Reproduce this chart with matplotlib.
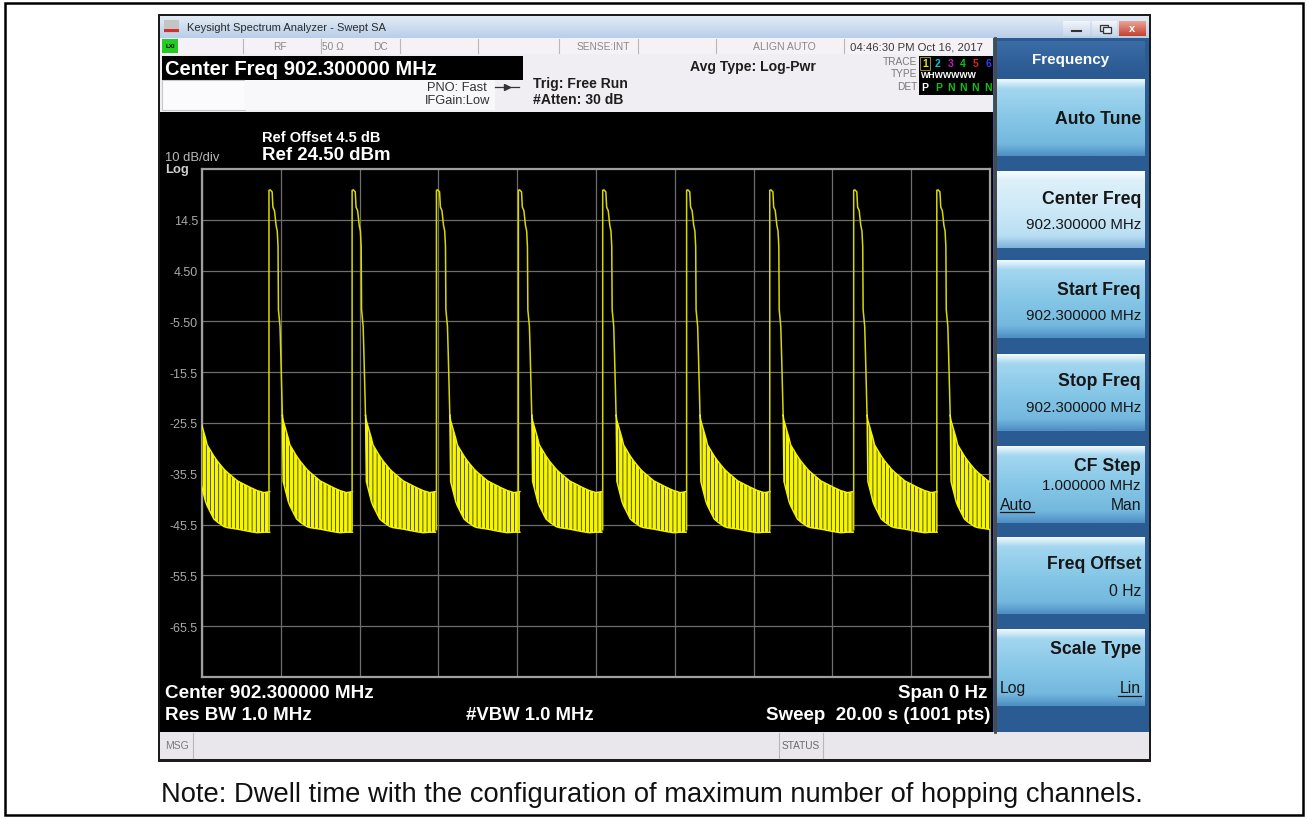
import numpy as np
import matplotlib
matplotlib.use("Agg")
import matplotlib.pyplot as plt
from matplotlib.patches import Rectangle
from matplotlib.colors import LinearSegmentedColormap

# ---------------- data ----------------
sweep_time_s = 20.0
ref_level_dbm = 24.5
db_per_div = 10.0
y_tick_values = [14.5, 4.5, -5.5, -15.5, -25.5, -35.5, -45.5, -55.5, -65.5]
y_tick_labels = ["14.5", "4.50", "-5.50", "-15.5", "-25.5", "-35.5", "-45.5", "-55.5", "-65.5"]

# rise times of each hop burst (first one lies just before the sweep start)
pulse_rise_s = [-0.40, 1.70, 3.81, 5.95, 8.03, 10.17, 12.30, 14.41, 16.54, 18.65]
# burst shape relative to its rise (s, dBm)
pulse_dt = [0.00, 0.00, 0.03, 0.08, 0.10, 0.14, 0.18, 0.21, 0.23, 0.24, 0.28, 0.30, 0.34]
pulse_dbm = [-46.5, 20.3, 20.4, 20.0, 17.0, 16.3, 13.4, 12.3, 9.2, -3.2, -6.5, -12.0, -24.0]
# decaying noise tail after each burst (upper / lower envelope)
tail_dt = [0.34, 0.36, 0.49, 0.53, 0.70, 0.79, 0.96, 1.04, 1.30, 1.63, 1.80, 1.97, 2.12]
tail_upper = [-24.0, -25.0, -28.5, -29.8, -32.0, -33.0, -34.6, -35.2, -36.9, -38.2, -38.8, -39.2, -39.0]
tail_lower = [-24.0, -37.0, -41.0, -41.8, -44.4, -45.0, -45.9, -46.1, -46.4, -46.9, -47.1, -47.0, -47.0]

caption = "Note: Dwell time with the configuration of maximum number of hopping channels."

# ---------------- figure ----------------
plt.rcParams["font.family"] = ["Liberation Sans", "DejaVu Sans"]
plt.rcParams["hatch.color"] = "black"
plt.rcParams["hatch.linewidth"] = 0.45

W, H = 1308, 820
fig = plt.figure(figsize=(W / 100, H / 100), dpi=100)
fig.patch.set_facecolor("white")
bg = fig.add_axes([0, 0, 1, 1])
bg.set_xlim(0, W)
bg.set_ylim(H, 0)
bg.axis("off")


def box(x0, y0, x1, y1, fc, ec="none", lw=0, z=1):
    bg.add_patch(Rectangle((x0, y0), x1 - x0, y1 - y0, facecolor=fc,
                           edgecolor=ec, linewidth=lw, zorder=z))


def grad(x0, y0, x1, y1, stops, z=1):
    cm = LinearSegmentedColormap.from_list("g", stops)
    arr = np.linspace(0, 1, 64).reshape(-1, 1)
    bg.imshow(arr, cmap=cm, extent=[x0, x1, y1, y0], aspect="auto",
              zorder=z, interpolation="bilinear")


def txt(x, y, s, size=8, color="black", weight="normal", ha="left", z=5, **kw):
    bg.text(x, y, s, fontsize=size, color=color, fontweight=weight, ha=ha,
            va="center", zorder=z, **kw)


# outer border
box(5, 4, 1303, 816, "none", ec="black", lw=1.8, z=10)

# screenshot frame
box(158, 15, 1151, 763, "#1c1c1c")
# title bar
grad(160, 17, 1149, 39, [(0, "#e3ecf6"), (1, "#b8cee8")], z=2)
box(164, 21, 179, 34, "#c4c4c4", z=3)
box(164, 30, 179, 33, "#d03030", z=3)
txt(187, 28, "Keysight Spectrum Analyzer - Swept SA", size=8, color="#2a2a2a")
grad(1063, 22, 1090, 37, [(0, "#f2f6fb"), (1, "#c6d6ea")], z=3)
grad(1092, 22, 1117, 37, [(0, "#f2f6fb"), (1, "#c6d6ea")], z=3)
grad(1119, 22, 1146, 37, [(0, "#e9a596"), (1, "#c5412f")], z=3)
bg.plot([1072, 1081], [32, 32], color="#333333", lw=1.5, zorder=4)
box(1100, 26, 1108, 32, "none", ec="#333333", lw=0.9, z=4)
box(1103, 28, 1111, 34, "#e6eef7", ec="#333333", lw=0.9, z=4)
txt(1132.5, 29.5, "x", size=8, color="white", weight="bold", ha="center")

# status row
box(160, 39, 993, 55, "#f4f2f6", z=2)
for xs in [243, 321, 400, 478, 559, 638, 716, 844]:
    bg.plot([xs, xs], [40, 54], color="#b8b8b8", lw=0.8, zorder=3)
box(162, 40, 178, 54, "#22cc22", z=3)
txt(170, 47, "LXI", size=4.5, color="black", weight="bold", ha="center")
txt(280, 47, "RF", size=7.3, color="#8a8a8a", ha="center")
txt(333, 47, "50 Ω", size=7.3, color="#8a8a8a", ha="center")
txt(380, 47, "DC", size=7.3, color="#8a8a8a", ha="center")
txt(603, 47, "SENSE:INT", size=7.3, color="#8a8a8a", ha="center")
txt(784, 47, "ALIGN AUTO", size=7.6, color="#8a8a8a", ha="center")
txt(916, 47, "04:46:30 PM Oct 16, 2017", size=8.2, color="#3a3a3a", ha="center")

# header area
box(160, 55, 993, 113, "#f0eef2", z=2)
box(162, 57, 523, 81, "black", z=3)
txt(165, 69.5, "Center Freq 902.300000 MHz", size=14.5, color="white", weight="bold")
box(162, 81, 245, 111, "#fbfbfd", ec="#c8c8c8", lw=0.8, z=3)
box(245, 81, 495, 111, "#f8f7fa", z=3)
txt(487, 88, "PNO: Fast", size=9.3, color="#333333", ha="right")
txt(490, 101, "IFGain:Low", size=9.3, color="#333333", ha="right")
bg.plot([495, 519], [88, 88], color="#333333", lw=0.9, zorder=4)
bg.plot([507], [88], marker=">", ms=4, color="#333333", zorder=4)
txt(533, 84, "Trig: Free Run", size=10.1, color="#1e1e1e", weight="bold")
txt(533, 100.5, "#Atten: 30 dB", size=10.1, color="#1e1e1e", weight="bold")
txt(690, 67, "Avg Type: Log-Pwr", size=10.1, color="#1e1e1e", weight="bold")
txt(917, 62, "TRACE", size=7.3, color="#7a7a7a", ha="right")
txt(917, 74, "TYPE", size=7.3, color="#7a7a7a", ha="right")
txt(917, 87, "DET", size=7.3, color="#7a7a7a", ha="right")
box(919, 57, 993, 96, "black", z=3)
trace_cols = ["#e8e800", "#00c8d8", "#c020c0", "#10c010", "#e02030", "#3a3aff"]
for i, c in enumerate(trace_cols):
    txt(925 + i * 12.6, 64, str(i + 1), size=7.5, color=c, weight="bold", ha="center")
box(920, 58, 930, 71, "none", ec="#8a8a30", lw=0.8, z=4)
txt(921, 76, "WHWWWWW", size=6.3, color="white", weight="bold")
txt(921, 88, "P", size=7.5, color="white", weight="bold")
for i, s in enumerate("PNNNN"):
    txt(935 + i * 12.2, 88, s, size=7.5, color="#10c010", weight="bold")

# main black display
box(160, 113, 993, 733, "black", z=2)
txt(262, 138, "Ref Offset 4.5 dB", size=10.5, color="white", weight="bold")
txt(262, 156, "Ref 24.50 dBm", size=13.4, color="white", weight="bold")
txt(165, 158, "10 dB/div", size=9.4, color="#b8b8b8")
txt(165, 170, "Log", size=9.4, color="#d0d0d0", weight="bold")
txt(165, 694, "Center 902.300000 MHz", size=13.6, color="white", weight="bold")
txt(165, 716, "Res BW 1.0 MHz", size=13.6, color="white", weight="bold")
txt(466, 716, "#VBW 1.0 MHz", size=13.3, color="white", weight="bold")
txt(987, 694, "Span 0 Hz", size=13.5, color="white", weight="bold", ha="right")
txt(990, 716, "Sweep  20.00 s (1001 pts)", size=13.5, color="white", weight="bold", ha="right")

# softkey panel
box(993, 39, 1149, 733, "#2b5b93", z=2)
bg.plot([995, 995], [39, 733], color="#4a4a4a", lw=2, zorder=3)
grad(997, 42, 1145, 78, [(0, "#3b6ca6"), (1, "#2a5890")], z=3)
txt(1071, 60, "Frequency", size=11, color="white", weight="bold", ha="center")

norm_stops = [(0, "#eef8fd"), (0.12, "#a3d6ef"), (0.5, "#86c7e7"), (0.85, "#73b8de"), (1, "#4f8fc4")]
sel_stops = [(0, "#f8fcfe"), (0.12, "#dcf0f9"), (0.5, "#cde9f7"), (0.85, "#b9def2"), (1, "#7fb2dc")]
button_tops = [80, 172, 262, 355, 447, 538, 630]
for i, t in enumerate(button_tops):
    grad(997, t, 1145, t + 77, sel_stops if i == 1 else norm_stops, z=3)

kcol = "#161616"
tsz, vsz = 12.7, 10.8
txt(1141, 120, "Auto Tune", size=tsz, color=kcol, weight="bold", ha="right")
txt(1141, 199, "Center Freq", size=tsz, color=kcol, weight="bold", ha="right")
txt(1141, 225, "902.300000 MHz", size=vsz, color=kcol, ha="right")
txt(1141, 291, "Start Freq", size=tsz, color=kcol, weight="bold", ha="right")
txt(1141, 316, "902.300000 MHz", size=vsz, color=kcol, ha="right")
txt(1141, 382, "Stop Freq", size=tsz, color=kcol, weight="bold", ha="right")
txt(1141, 408, "902.300000 MHz", size=vsz, color=kcol, ha="right")
txt(1141, 467, "CF Step", size=tsz, color=kcol, weight="bold", ha="right")
txt(1141, 486, "1.000000 MHz", size=vsz, color=kcol, ha="right")
txt(1000, 506, "Auto", size=11.3, color=kcol)
bg.plot([1000, 1034], [513, 513], color=kcol, lw=0.9, zorder=5)
txt(1141, 506, "Man", size=11.3, color=kcol, ha="right")
txt(1141, 565, "Freq Offset", size=tsz, color=kcol, weight="bold", ha="right")
txt(1141, 592, "0 Hz", size=11.3, color=kcol, ha="right")
txt(1141, 650, "Scale Type", size=tsz, color=kcol, weight="bold", ha="right")
txt(1000, 689, "Log", size=11.3, color=kcol)
txt(1141, 689, "Lin", size=11.3, color=kcol, ha="right")
bg.plot([1118, 1141], [697, 697], color=kcol, lw=0.9, zorder=5)

# bottom message bar
box(160, 733, 1149, 760, "#e9e7eb", z=2)
for xs in [193, 779, 823]:
    bg.plot([xs, xs], [734, 759], color="#b8b8b8", lw=0.8, zorder=3)
txt(165, 746, "MSG", size=7.5, color="#7a7a7a")
txt(801, 746, "STATUS", size=7.3, color="#6a6a6a", ha="center")

# caption
txt(652, 795, caption, size=19.7, color="#111111", ha="center")

# ---------------- trace axes ----------------
x0p, x1p, y0p, y1p = 202, 990, 170, 678
ax = fig.add_axes([x0p / W, 1 - y1p / H, (x1p - x0p) / W, (y1p - y0p) / H])
ax.set_zorder(5)
ax.set_facecolor("black")
ax.set_xlim(0, sweep_time_s)
ax.set_ylim(ref_level_dbm - 10 * db_per_div, ref_level_dbm)
ax.set_yticks(y_tick_values)
ax.set_yticklabels(y_tick_labels, fontsize=9, color="#a8a8a8")
ax.set_xticks(np.arange(0, sweep_time_s + 0.01, sweep_time_s / 10))
ax.tick_params(axis="x", length=0, labelbottom=False)
ax.tick_params(axis="y", length=0, pad=3)
ax.grid(True, color="#6e6e6e", lw=0.9)
ax.set_axisbelow(True)
for sp in ax.spines.values():
    sp.set_color("#a0a0a0")
    sp.set_linewidth(1.6)

pulse_color = "#d8d800"
tail_color = "#f6f600"
for r in pulse_rise_s:
    px = [r + d for d in pulse_dt]
    ax.plot(px, pulse_dbm, color=pulse_color, lw=1.1, zorder=4)
    tx = [r + d for d in tail_dt]
    ax.fill_between(tx, tail_lower, tail_upper, facecolor=tail_color,
                    edgecolor="black", hatch="||||", linewidth=0, zorder=3)
    ax.plot(tx, tail_upper, color=tail_color, lw=1.0, zorder=4)
    ax.plot(tx, tail_lower, color=tail_color, lw=1.0, zorder=4)

fig.savefig("out.png", dpi=100, facecolor="white")
